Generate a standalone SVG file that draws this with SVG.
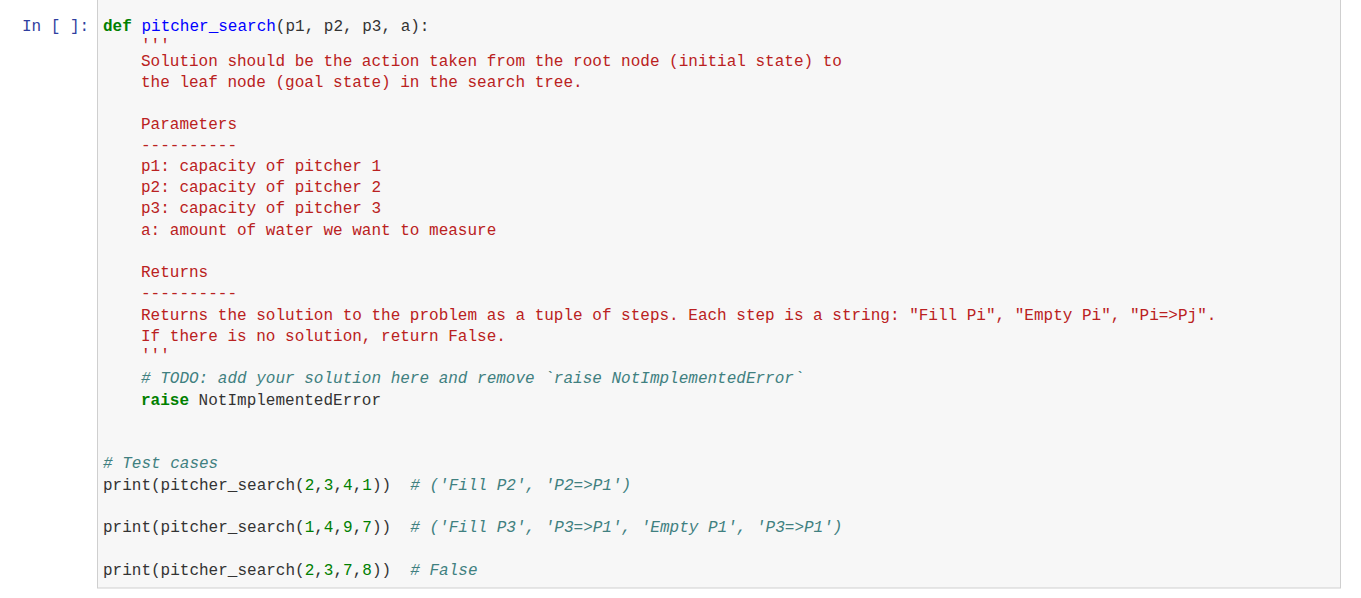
<svg xmlns="http://www.w3.org/2000/svg" width="1361" height="598" viewBox="0 0 1361 598">
<style>
text{font-family:"Liberation Mono","DejaVu Sans Mono",monospace;font-size:16px;fill:#333;white-space:pre}
.k{fill:#008000;font-weight:bold}.f{fill:#0000ff}.s{fill:#ba2121}.c{fill:#408080;font-style:italic}.n{fill:#008000}.p{fill:#303f9f}
</style>
<rect width="1361" height="598" fill="#fff"/>
<g id="cell">
<rect x="97.5" y="-1" width="1243" height="589" fill="#f7f7f7" stroke="#cfcfcf"/>
<text class="p" x="22" y="31">In [ ]:</text>
</g>
<g id="code" xml:space="preserve">
<text x="103" y="31"><tspan class="k">def</tspan> <tspan class="f">pitcher_search</tspan>(p1, p2, p3, a):</text>
<text class="s" x="141" y="50">'''</text>
<text class="s" x="141" y="66">Solution should be the action taken from the root node (initial state) to</text>
<text class="s" x="141" y="87">the leaf node (goal state) in the search tree.</text>
<text class="s" x="141" y="129">Parameters</text>
<text class="s" x="141" y="150">----------</text>
<text class="s" x="141" y="171">p1: capacity of pitcher 1</text>
<text class="s" x="141" y="192">p2: capacity of pitcher 2</text>
<text class="s" x="141" y="213">p3: capacity of pitcher 3</text>
<text class="s" x="141" y="235">a: amount of water we want to measure</text>
<text class="s" x="141" y="277">Returns</text>
<text class="s" x="141" y="298">----------</text>
<text class="s" x="141" y="320">Returns the solution to the problem as a tuple of steps. Each step is a string: "Fill Pi", "Empty Pi", "Pi=&gt;Pj".</text>
<text class="s" x="141" y="341">If there is no solution, return False.</text>
<text class="s" x="141" y="360">'''</text>
<text class="c" x="141" y="383"># TODO: add your solution here and remove `raise NotImplementedError`</text>
<text x="141" y="405"><tspan class="k">raise</tspan> NotImplementedError</text>
<text class="c" x="103" y="468"># Test cases</text>
<text x="103" y="490">print(pitcher_search(<tspan class="n">2</tspan>,<tspan class="n">3</tspan>,<tspan class="n">4</tspan>,<tspan class="n">1</tspan>))  <tspan class="c"># ('Fill P2', 'P2=&gt;P1')</tspan></text>
<text x="103" y="532">print(pitcher_search(<tspan class="n">1</tspan>,<tspan class="n">4</tspan>,<tspan class="n">9</tspan>,<tspan class="n">7</tspan>))  <tspan class="c"># ('Fill P3', 'P3=&gt;P1', 'Empty P1', 'P3=&gt;P1')</tspan></text>
<text x="103" y="575">print(pitcher_search(<tspan class="n">2</tspan>,<tspan class="n">3</tspan>,<tspan class="n">7</tspan>,<tspan class="n">8</tspan>))  <tspan class="c"># False</tspan></text>
</g>
</svg>
